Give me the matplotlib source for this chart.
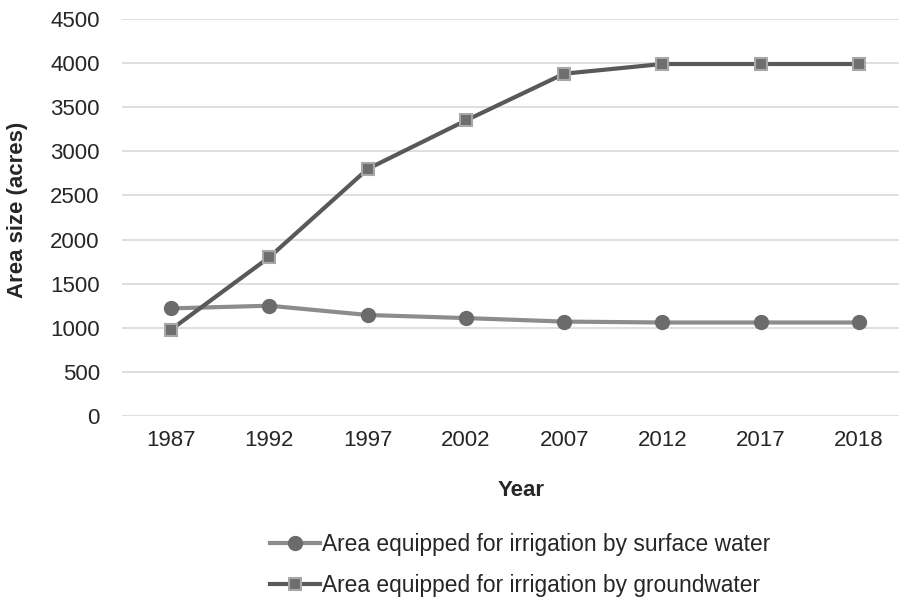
import matplotlib
matplotlib.use("Agg")
import matplotlib.pyplot as plt
import numpy as np

years = ["1987", "1992", "1997", "2002", "2007", "2012", "2017", "2018"]
surface = [1220, 1250, 1145, 1110, 1070, 1060, 1060, 1060]
ground = [980, 1800, 2800, 3350, 3880, 3990, 3990, 3990]
yticks = [0, 500, 1000, 1500, 2000, 2500, 3000, 3500, 4000, 4500]

plt.rcParams['font.family'] = ['Liberation Sans', 'DejaVu Sans']
FS = 16

fig = plt.figure(figsize=(8.99, 6.0), dpi=100)
ax = fig.add_axes([122/899, 1-416/600, 786/899, 397/600])
x = np.arange(len(years))

ax.plot(x, surface, color='#8c8c8c', lw=3.0, marker='o', ms=10,
        markerfacecolor='#6b6b6b', markeredgecolor='#6b6b6b',
        label='Area equipped for irrigation by surface water', zorder=3)
ax.plot(x, ground, color='#595959', lw=3.0, marker='s', ms=9,
        markerfacecolor='#6e6e6e', markeredgecolor='#a8a8a8', markeredgewidth=1.5,
        label='Area equipped for irrigation by groundwater', zorder=4)

ax.set_xlim(-0.5, len(years) - 0.5)
ax.set_ylim(0, 4500)
ax.set_yticks(yticks)
ax.set_xticks(x)
ax.set_xticklabels(years)
ax.tick_params(axis='both', length=0, labelsize=FS, colors='#262626')
ax.tick_params(axis='y', pad=16)
ax.tick_params(axis='x', pad=10)
ax.grid(axis='y', color='#d9d9d9', lw=1.2)
ax.set_axisbelow(True)
for s in ax.spines.values():
    s.set_visible(False)

fig.text(521/899, 1-490/600, 'Year', ha='center', va='center',
         fontsize=FS, fontweight='bold', color='#262626')
fig.text(18/899, 1-210/600, 'Area size (acres)', ha='center', va='center',
         rotation=90, fontsize=FS, fontweight='bold', color='#262626')

fig.legend(loc='center', bbox_to_anchor=(520/899, 1-565/600), frameon=False,
           fontsize=16.4, handlelength=2.2, handletextpad=0.1, labelspacing=0.8,
           labelcolor='#262626')

fig.savefig('out.png', dpi=100)
